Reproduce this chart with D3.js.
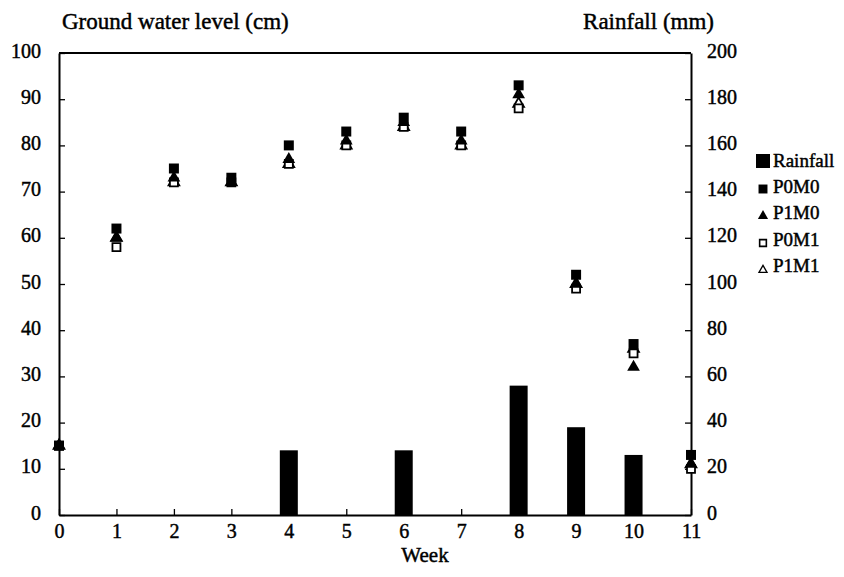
<!DOCTYPE html>
<html>
<head>
<meta charset="utf-8">
<script src="https://cdn.jsdelivr.net/npm/d3@7"></script>
<style>
  body { margin: 0; background: #fff; }
</style>
</head>
<body>
<svg id="chart" width="844" height="577"></svg>
<script>
// data
var weeks = [0, 1, 2, 3, 4, 5, 6, 7, 8, 9, 10, 11]
var rainfall = [0, 0, 0, 0, 28, 0, 28, 0, 56, 38, 26, 0]
var p0m0 = [15, 62, 75, 73, 80, 83, 86, 83, 93, 52, 37, 13]
var p1m0 = [15, 60, 73, 72, 77, 81, 85, 81, 91, 50, 32, 11]
var p0m1 = [15, 58, 72, 72, 76, 80, 84, 80, 88, 49, 35, 10]
var p1m1 = [15, 60, 72, 72, 76, 80, 84, 80, 89, 50, 36, 11]
var leftTicks = [0, 10, 20, 30, 40, 50, 60, 70, 80, 90, 100]
var rightTicks = [0, 20, 40, 60, 80, 100, 120, 140, 160, 180, 200]

var serif = "Liberation Serif"
var svg = d3.select("#chart")
var x = d3.scaleLinear().domain([0, 11]).range([59, 691])
var yL = d3.scaleLinear().domain([0, 100]).range([515, 53])
var yR = d3.scaleLinear().domain([0, 200]).range([515, 53])

// rainfall bars
svg.append("g").selectAll("rect")
  .data(weeks.filter(function(w) { return rainfall[w] > 0 }))
  .join("rect")
  .attr("x", function(w) { return x(w) - 9 })
  .attr("width", 18)
  .attr("y", function(w) { return yR(rainfall[w]) })
  .attr("height", function(w) { return yR(0) - yR(rainfall[w]) })
  .attr("fill", "#000")

// axes
var fs = 20
var axL = svg.append("g").attr("transform", "translate(59,0)")
  .call(d3.axisLeft(yL).tickValues(leftTicks).tickSizeInner(-6).tickSizeOuter(0).tickPadding(18))
var axR = svg.append("g").attr("transform", "translate(691,0)")
  .call(d3.axisRight(yR).tickValues(rightTicks).tickSizeInner(-6).tickSizeOuter(0).tickPadding(16))
var axB = svg.append("g").attr("transform", "translate(0,515)")
  .call(d3.axisBottom(x).tickValues(weeks).tickSizeInner(-6).tickSizeOuter(0).tickPadding(9))
;[axL, axR, axB].forEach(function(a) {
  a.attr("font-family", serif).attr("font-size", fs)
  a.selectAll("path.domain").attr("stroke", "#000").attr("stroke-width", 2)
  a.selectAll("line").attr("stroke", "#000").attr("stroke-width", 1.3)
  a.selectAll("text").attr("fill", "#000").attr("stroke", "#000").attr("stroke-width", 0.45)
})
axL.selectAll("text").attr("dy", "0.2em")
axR.selectAll("text").attr("dy", "0.2em")
// top frame line
svg.append("line").attr("x1", x(0)).attr("x2", x(11)).attr("y1", yL(100)).attr("y2", yL(100))
  .attr("stroke", "#000").attr("stroke-width", 2)

// markers
var sq = d3.symbol().type(d3.symbolSquare)
var tri = d3.symbol().type(d3.symbolTriangle)
function drawSeries(vals, gen, fill, stroke) {
  svg.append("g").selectAll("path")
    .data(weeks)
    .join("path")
    .attr("d", gen)
    .attr("transform", function(w) { return "translate(" + x(w) + "," + yL(vals[w]) + ")" })
    .attr("fill", fill)
    .attr("stroke", stroke)
    .attr("stroke-width", stroke == "none" ? 0 : 1.8)
}
drawSeries(p1m1, tri.size(50), "#fff", "#000")
drawSeries(p0m1, sq.size(64), "#fff", "#000")
drawSeries(p1m0, tri.size(70), "#000", "none")
drawSeries(p0m0, sq.size(100), "#000", "none")

function label(xp, yp, txt, size, anchor) {
  return svg.append("text").attr("x", xp).attr("y", yp).attr("text-anchor", anchor)
    .attr("font-family", serif).attr("font-size", size)
    .attr("stroke", "#000").attr("stroke-width", 0.45)
    .text(txt)
}
// titles
label(62, 29, "Ground water level (cm)", 23, "start")
label(714, 29, "Rainfall (mm)", 23, "end")
label(425, 562, "Week", 21, "middle")

// legend
var legendNames = ["Rainfall", "P0M0", "P1M0", "P0M1", "P1M1"]
var legendY = [161, 187, 213, 240, 266]
var mx = 763
var lg = svg.append("g")
lg.append("rect").attr("x", mx - 7).attr("y", legendY[0] - 7).attr("width", 14).attr("height", 14).attr("fill", "#000")
lg.append("path").attr("d", sq.size(80)()).attr("transform", "translate(" + mx + "," + (legendY[1] + 2) + ")").attr("fill", "#000")
lg.append("path").attr("d", tri.size(45)()).attr("transform", "translate(" + mx + "," + (legendY[2] + 3) + ")").attr("fill", "#000")
lg.append("path").attr("d", sq.size(45)()).attr("transform", "translate(" + mx + "," + (legendY[3] + 3) + ")")
  .attr("fill", "#fff").attr("stroke", "#000").attr("stroke-width", 1.6)
lg.append("path").attr("d", tri.size(28)()).attr("transform", "translate(" + mx + "," + (legendY[4] + 4) + ")")
  .attr("fill", "#fff").attr("stroke", "#000").attr("stroke-width", 1.3)
legendNames.forEach(function(d, i) { label(773, legendY[i] + 6, d, 19, "start") })
</script>
</body>
</html>
